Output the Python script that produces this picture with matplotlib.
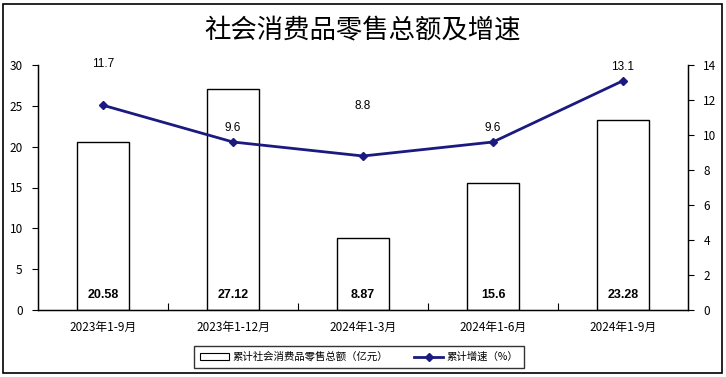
import matplotlib
matplotlib.use("Agg")
import matplotlib.pyplot as plt
from matplotlib.lines import Line2D
from matplotlib.patches import Patch, Rectangle

plt.rcParams["font.family"] = ["Noto Sans CJK SC", "DejaVu Sans"]

categories = ["2023年1-9月", "2023年1-12月", "2024年1-3月", "2024年1-6月", "2024年1-9月"]
sales = [20.58, 27.12, 8.87, 15.6, 23.28]
growth = [11.7, 9.6, 8.8, 9.6, 13.1]
sales_labels = ["20.58", "27.12", "8.87", "15.6", "23.28"]
growth_labels = ["11.7", "9.6", "8.8", "9.6", "13.1"]
# vertical offsets (in % units) of the growth labels above their points
growth_offsets = [2.0, 0.45, 2.5, 0.45, 0.45]

W, H = 726, 377
fig = plt.figure(figsize=(W / 100, H / 100), dpi=100)
fig.patches.append(Rectangle((3 / W, 4 / H), 719 / W, 369 / H, transform=fig.transFigure,
                             fill=False, edgecolor="black", linewidth=1.2))

ax = fig.add_axes([38 / W, 1 - 310 / H, 650 / W, 245 / H])
x = list(range(len(categories)))
ax.bar(x, sales, width=0.4, color="white", edgecolor="black", linewidth=1.0, zorder=2)
for xi, lab in zip(x, sales_labels):
    ax.text(xi, 1.8, lab, ha="center", va="center", fontsize=9, fontweight="bold",
            family="Liberation Sans")

ax.set_xlim(-0.5, len(categories) - 0.5)
ax.set_ylim(0, 30)
ax.set_yticks(range(0, 31, 5))
ax.set_xticks([i + 0.5 for i in range(len(categories) - 1)])
ax.set_xticklabels([])
ax.tick_params(axis="x", direction="in", length=5, width=0.8)
ax.tick_params(axis="y", direction="out", length=4, width=0.8, labelsize=8.5, pad=7)
for xi, lab in zip(x, categories):
    ax.text(xi, -0.045, lab, transform=ax.get_xaxis_transform(), ha="center", va="top",
            fontsize=8.5)
ax.spines["top"].set_visible(False)
for s in ["left", "bottom", "right"]:
    ax.spines[s].set_linewidth(1.0)

ax2 = ax.twinx()
ax2.plot(x, growth, color="#1a1a80", linewidth=2.0, marker="D", markersize=4.5, zorder=3)
for xi, v, lab, off in zip(x, growth, growth_labels, growth_offsets):
    ax2.text(xi, v + off, lab, ha="center", va="bottom", fontsize=8.5, family="Liberation Sans")
ax2.set_ylim(0, 14)
ax2.set_yticks(range(0, 15, 2))
ax2.tick_params(axis="y", direction="out", length=4, width=0.8, labelsize=8.5, pad=7)
ax2.spines["top"].set_visible(False)

fig.text(0.5, 1 - 30 / H, "社会消费品零售总额及增速", ha="center", va="center", fontsize=19)

handles = [Patch(facecolor="white", edgecolor="black", linewidth=0.8),
           Line2D([], [], color="#1a1a80", linewidth=2.0, marker="D", markersize=4)]
leg = fig.legend(handles, ["累计社会消费品零售总额（亿元）", "累计增速（%）"],
                 loc="center", bbox_to_anchor=(359 / W, 1 - 357 / H), ncol=2, fontsize=7.5,
                 frameon=True, fancybox=False, edgecolor="black", handlelength=2.8,
                 columnspacing=2.5, borderpad=0.55, handletextpad=0.3)
leg.get_frame().set_linewidth(1.0)

fig.savefig("out.png", dpi=100)
